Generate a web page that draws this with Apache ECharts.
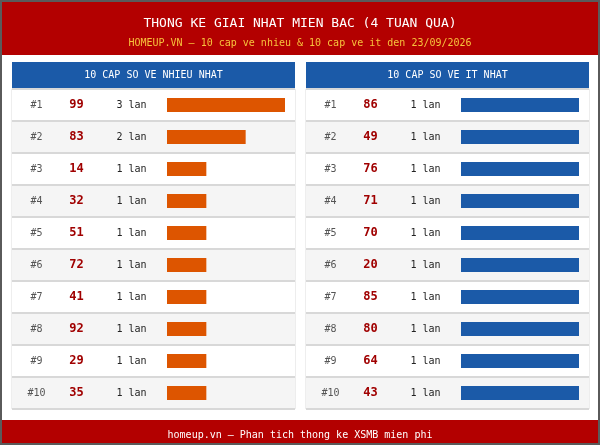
<!DOCTYPE html>
<html><head><meta charset="utf-8">
<script src="https://cdn.jsdelivr.net/npm/echarts@6.0.0/dist/echarts.min.js"></script>
<style>html,body{margin:0;padding:0;background:#fff}#c{width:600px;height:445px}</style>
</head><body><div id="c"></div>
<script>
const ranks = ['#1','#2','#3','#4','#5','#6','#7','#8','#9','#10'];
const hotNumbers = ['99','83','14','32','51','72','41','92','29','35'];
const hotCounts = [3,2,1,1,1,1,1,1,1,1];
const coldNumbers = ['86','49','76','71','70','20','85','80','64','43'];
const coldCounts = [1,1,1,1,1,1,1,1,1,1];
const titleText = 'THONG KE GIAI NHAT MIEN BAC (4 TUAN QUA)';
const subtitleText = 'HOMEUP.VN – 10 cap ve nhieu & 10 cap ve it den 23/09/2026';
const hotHeader = '10 CAP SO VE NHIEU NHAT';
const coldHeader = '10 CAP SO VE IT NHAT';
const footerText = 'homeup.vn – Phan tich thong ke XSMB mien phi';
const countSuffix = ' lan';

const FONT = "'DejaVu Sans Mono', monospace";
const RED = '#b30000', BLUE = '#1b5aa8', ORANGE = '#dd5500';
const ROW_TOP = 89, ROW_H = 320, PANEL_W = 283;
const panels = [
  {left: 12, barLeft: 167, numbers: hotNumbers, counts: hotCounts, header: hotHeader, color: ORANGE},
  {left: 306, barLeft: 461, numbers: coldNumbers, counts: coldCounts, header: coldHeader, color: BLUE}
];

const grid = [], xAxis = [], yAxis = [], series = [], graphic = [];
graphic.push({type:'rect', shape:{x:0,y:0,width:600,height:55}, style:{fill:RED}, z:0});
graphic.push({type:'rect', shape:{x:0,y:420,width:600,height:25}, style:{fill:RED}, z:0});
graphic.push({type:'text', x:300, y:24, style:{text:titleText, font:'13px '+FONT, fill:'#ffffff', align:'center', verticalAlign:'middle'}});
graphic.push({type:'text', x:300, y:43, style:{text:subtitleText, font:'10px '+FONT, fill:'#f7c33c', align:'center', verticalAlign:'middle'}});
graphic.push({type:'text', x:300, y:435, style:{text:footerText, font:'10px '+FONT, fill:'#ffffff', align:'center', verticalAlign:'middle'}});
graphic.push({type:'rect', shape:{x:1,y:1,width:598,height:443}, style:{fill:'none', stroke:'#5a5a5a', lineWidth:2}, z:100});

panels.forEach((p, i) => {
  graphic.push({type:'rect', shape:{x:p.left,y:62,width:PANEL_W,height:26}, style:{fill:BLUE}});
  graphic.push({type:'text', x:p.left+PANEL_W/2, y:75, style:{text:p.header, font:'10px '+FONT, fill:'#ffffff', align:'center', verticalAlign:'middle'}});
  const g0 = grid.length;
  grid.push({left:p.left, top:ROW_TOP, width:PANEL_W, height:ROW_H, show:true, borderColor:'#dcdcdc', borderWidth:1, backgroundColor:'transparent'});
  grid.push({left:p.barLeft, top:ROW_TOP, width:118, height:ROW_H});
  xAxis.push({type:'value', gridIndex:g0, min:0, max:1, show:false});
  xAxis.push({type:'value', gridIndex:g0+1, min:0, max:Math.max(...p.counts), show:false});
  yAxis.push({
    type:'category', gridIndex:g0, data:ranks, inverse:true,
    axisLine:{show:false}, axisTick:{show:false},
    splitLine:{show:true, lineStyle:{color:'#d8d8d8', width:2}},
    splitArea:{show:true, areaStyle:{color:['#ffffff','#f5f5f5']}},
    axisLabel:{
      inside:true, margin:8, fontFamily:FONT,
      formatter:(v, idx) => `{rank|${v}}{num|${p.numbers[idx]}}{cnt|${p.counts[idx]}${countSuffix}}`,
      rich:{
        rank:{width:33, align:'center', fontSize:10, color:'#555555', fontFamily:FONT},
        num:{width:47, align:'center', fontSize:12, fontWeight:'bold', color:'#a00000', fontFamily:FONT},
        cnt:{width:63, align:'center', fontSize:10, color:'#222222', fontFamily:FONT}
      }
    }
  });
  yAxis.push({type:'category', gridIndex:g0+1, data:ranks, inverse:true, show:false});
  series.push({type:'bar', xAxisIndex:g0+1, yAxisIndex:g0+1, data:p.counts, barWidth:14, itemStyle:{color:p.color}, silent:true, animation:false});
});

const chart = echarts.init(document.getElementById('c'), null, {renderer:'canvas'});
chart.setOption({animation:false, backgroundColor:'#ffffff', grid, xAxis, yAxis, series, graphic});
</script></body></html>
